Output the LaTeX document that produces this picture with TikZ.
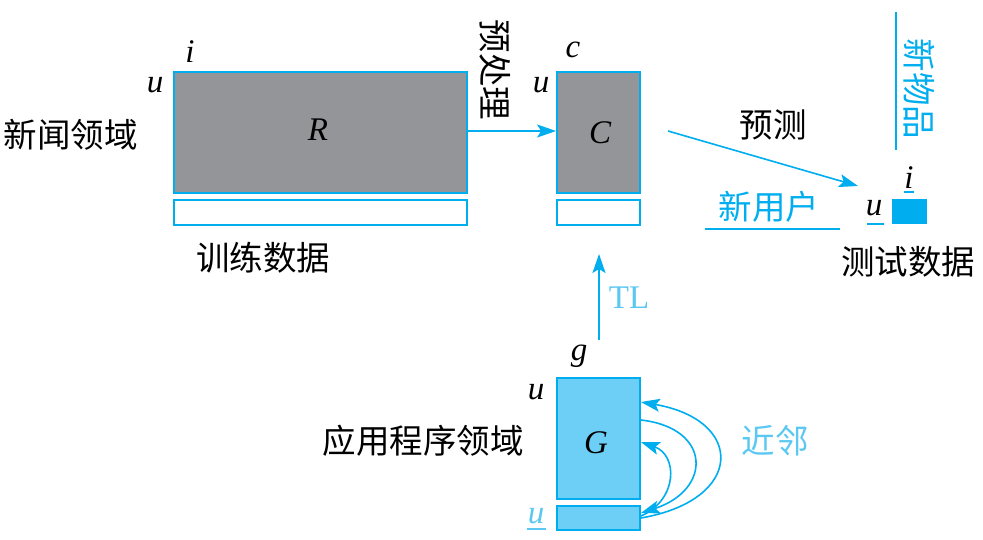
\documentclass[tikz,border=0pt]{standalone}
\usepackage{fontspec}
\setmainfont{Liberation Serif}
\newfontfamily\cjk{Noto Sans CJK SC}
\usetikzlibrary{arrows.meta}
\definecolor{lineblue}{HTML}{00AEEF}
\definecolor{lightblue}{HTML}{6DCFF6}
\definecolor{boxgray}{HTML}{939598}
\definecolor{txtblue}{HTML}{5BC8F2}
\tikzset{
  box/.style={draw=lineblue, line width=1.8pt, inner sep=0pt},
  zh/.style={font=\cjk\fontsize{33.5}{38}\selectfont, inner sep=0pt},
  lat/.style={font=\fontsize{33}{38}\selectfont\itshape, inner sep=0pt},
  conn/.style={draw=lineblue, line width=1.6pt, -{Stealth[length=19pt,width=13pt,inset=4pt]}},
  bluetxt/.style={text=lineblue},
  lbtxt/.style={text=txtblue},
  rule/.style={draw=lineblue, line width=1.5pt}
}
\begin{document}
\begin{tikzpicture}[x=1pt,y=-1pt]
\useasboundingbox (0,0) rectangle (983,539);
% news domain
\node[box, fill=boxgray, minimum width=293pt, minimum height=121pt] (R) at (320.5,132.5) {};
\node[lat] (Rl) at (318,130) {R};
\node[box, fill=white, minimum width=293pt, minimum height=25pt] (Rw) at (320.5,212.5) {};
\node[lat] (Ri) at (190,52) {i};
\node[lat] (Ru) at (155,85) {u};
\node[zh] (news) at (71,135) {新闻领域};
\node[zh] (train) at (263,258) {训练数据};
% C
\node[box, fill=boxgray, minimum width=83pt, minimum height=121pt] (C) at (598.5,132.5) {};
\node[lat] (Cl) at (600,133) {C};
\node[box, fill=white, minimum width=83pt, minimum height=25pt] (Cw) at (598.5,212.5) {};
\node[lat] (Cc) at (573,50) {c};
\node[lat] (Cu) at (541,85) {u};
\draw[conn] (R.east |- 0,131) -- (C.west |- 0,131);
\node[zh, rotate=-90] (pre) at (495,70) {预处理};
% prediction
\coordinate (p1) at (668,131);
\coordinate (p2) at (858,186);
\draw[conn] (p1) -- (p2);
\node[zh] (predict) at (773,125) {预测};
% test data
\node[draw=lineblue, fill=lineblue, line width=1pt, minimum width=34pt, minimum height=24pt, inner sep=0pt] (T) at (909.5,211.5) {};
\node[lat] (Ti) at (909,178) {i};
\draw[rule] (904,192) -- (914,192);
\node[lat] (Tu) at (874,208) {u};
\draw[rule] (867,224) -- (884,224);
\node[zh] (test) at (908,262) {测试数据};
\node[zh, bluetxt] (newuser) at (769,207) {新用户};
\draw[rule] (705,229) -- (840,229);
\node[zh, bluetxt, rotate=-90] (newitem) at (919,89) {新物品};
\draw[rule] (896,12) -- (896,150);
% G
\node[box, fill=lightblue, minimum width=83pt, minimum height=121pt] (G) at (598.5,438.5) {};
\node[lat] (Gl) at (596,443) {G};
\node[box, fill=lightblue, minimum width=83pt, minimum height=24pt] (Gw) at (598.5,518) {};
\node[lat] (Gg) at (579,356) {g};
\node[lat] (Gu) at (536,392) {u};
\node[lat, lbtxt] (Gu2) at (536,516) {u};
\draw[draw=txtblue, line width=1.5pt] (527,529) -- (546,529);
\node[zh] (app) at (423,441) {应用程序领域};
\coordinate (tl0) at (599,340);
\coordinate (tl1) at (599,254);
\draw[conn] (tl0) -- (tl1);
\node[font=\fontsize{33}{38}\selectfont, lbtxt, inner sep=0pt] (TL) at (629,298) {TL};
\node[zh, lbtxt] (nbr) at (775,441) {近邻};
% neighbour curves
\draw[conn] (Gw.east |- 0,518) .. controls (745,500) and (745,420) .. (G.east |- 0,402);
\draw[conn] (G.east |- 0,420) .. controls (712,428) and (712,490) .. (Gw.east |- 0,513);
\draw[conn] (Gw.east |- 0,516) .. controls (678,500) and (678,455) .. (G.east |- 0,442);
\end{tikzpicture}
\end{document}
